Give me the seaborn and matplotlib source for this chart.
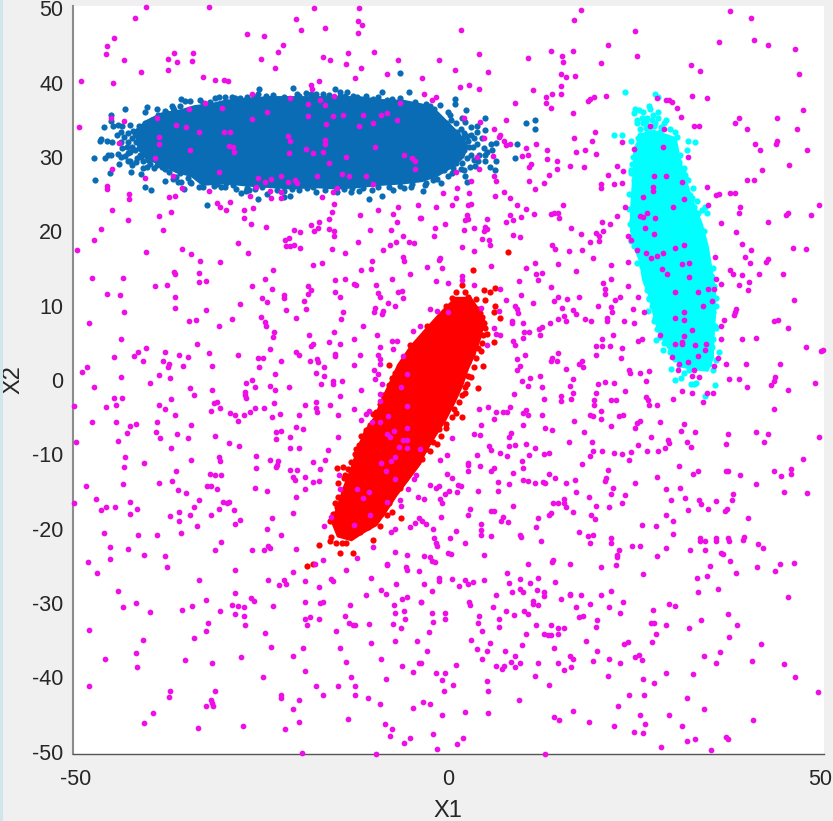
import matplotlib
matplotlib.use('Agg')
import matplotlib.pyplot as plt
from matplotlib.patches import Rectangle
import seaborn as sns

# all values, as (X1, X2)
magenta_top_left = [
    (-40.6,50.2),(-32.2,50.2),(-18,50),(-12,50),(-42.1,48.7),(-20.4,48.6),(-12.1,48.3),(-11.6,47.8),(-16.5,47.4),(-19.8,47.1),
    (-12.1,46.7),(-27,46.6),(-24.8,46.2),(-44.9,46),(-45.8,44.9),(-22.2,45),(-46,43.9),(-22.8,44.1),(-36.8,44),(-34.3,44),
    (-13.5,44),(-10,44.1),(-37.6,43.2),(-25.1,43.2),(-16.8,43.4),(-15.9,43),(-6.7,43.1),(-43.6,43.1),(-36.4,42.8),(-34.4,42.9),
    (-13.8,42.5),(-37.6,41.7),(-23.3,41.9),(-11.7,41.9),(-41.3,41.4),(-8.2,41.2),(-33,40.7),(-12.5,40.6),(-31.3,40.4),(-30.1,40.3),
    (-29.6,40.2),(-17.4,40.2),(-49.3,40.2),(-45,40),(-18.4,39.7),(-18.3,39.2),(-26.4,38.5),(-21.2,37.9),(-15.4,38.2),(-17.2,37.6),
    (-32.7,37.2),(-18.8,37.1),(-16.6,37),(-6.5,37.2),(-34.8,36.4),(-30.4,36.6),(-24.4,36.1),(-18.8,35.5),(-14.1,35.7),(-11.4,35.7),
    (-15.5,35.5),(-9,35.7),(-8.2,35.9),(-45.3,35.3),(-39.1,35.3),(-26.3,35.1),(-43.6,34.8),(-6.9,35),(-16.4,34.4),(-10.1,34.6),
    (-36.6,34.3),(-35.2,34),(-12,34.1),(-49.6,34),(-33.5,33.3),(-30.1,33.4),(-29.3,33.3),(-21.5,32.8),(-38.8,32.7),(-21.3,32.1),
    (-16.6,32.3),(-16.6,31.7),(-38.9,31.7),(-44.2,31.9),(-29.5,31.5),(-28.9,31.3),(-9.8,31.3),(-19.1,31.1),(-28.8,30.7),(-34.7,30.9),
    (-21.4,30.5),(-18.2,30.5),(-16.8,30.6),(-6,30.3),(-13.7,30),(-39.4,29.9),(-4.9,29.8),(-4.4,29.5),(-16,29.2),(-45.2,28.4),
    (-4.5,28.4),(-30.8,28),(-14.3,27.7),(-13.3,27.5),(-17.6,27.4),(-22.5,27.4),(-11,27.5),(-37,27.4),(-40.7,27.2),(-25.6,27.2),
    (-24.6,26.6),(-23.8,27),(-21.5,26.6),(-20.6,26.9),(-20.3,26.5),(-10.1,26.3),(-45.9,26.1),(-45.8,25.7),(-35.8,25.8),(-25.8,25.9),
    (-14.9,25.8),(-15.5,25.3),(-32.1,25.4),(-24,25.4),(-22.5,25.3),(-42.9,25),(-42.9,24.4),(-37.5,24.6),(-36.7,24.8),(-26.6,24.8),
    (-23.8,24.5),(-22.5,24.5),(-16.9,24.6),(-31,23.8),(-29.3,23.9),(-15.3,23.7),(-30.6,23.3),(-29.9,22.9),(-26.2,23.1),(-6.7,23.2),
    (-4,23.5),(-45.1,22.9),(-27.4,22.8),(-9.4,22.8),(-37.2,22.6),(-15.6,22.6),(-7.4,22.3),(-38.9,22.1),(-11.8,22.2),(-27.5,21.8),
    (-3.8,21.8),(-43,21.5),(-6.9,21.3),(-16,21.6),(-17.3,21.3),(-26.5,21),(-18.4,20.8),(-17.5,20.4),(-18,20),(-24.5,20.6),
    (-16,20.3),(-15.3,20.1),(-46.7,20.3),(-38.3,20.2),(-20.7,20.2),(-19.9,19.9),(-10.5,20.2),(-7.7,20.2),(-15.3,19.3),(-6.1,19.3),
    (-47.6,18.8),(-21.4,19.1),(-21.9,18.8),(-12.1,18.6),(-7,18.6),(-5.3,18.5),(-28.2,18.4),(-4.6,18.4),(-7.8,18.2),(-21.8,18),
    (-21.2,18),(-20.7,18.1),(-19.9,17.8),(-49.9,17.5),(-35.8,17.6),(-15.6,17.6),(-8.8,17.5),(-40.6,17.2),(-26.9,17.1),(-13.9,17.1),
    (-34.6,17),(-6.1,16.5),
]
magenta_top_right = [
    (17.8,49.7),(16.9,48.4),(37.8,49.6),(40.6,48.7),(25.1,47),(1.7,47.1),(36.3,45.5),(41.1,45.7),(21.4,45),(42.9,45.1),
    (46.6,44.5),(16.7,44.3),(13.8,44.2),(4.1,43.9),(15.3,43.6),(25.3,43.6),(10.7,43.3),(-1.3,43.1),(15.4,42.8),(20.5,42.7),
    (32.6,42.3),(0.9,41.7),(33.8,41.5),(5.4,41.4),(47.1,41.1),(15.2,41.1),(17,40.9),(15.8,40.7),(-3.5,40.6),(15.1,39.6),
    (2.8,39.7),(1.6,39.4),(4.1,39.2),(11.4,39),(14,38.5),(15.2,38.5),(-3.2,38.4),(13.1,38.1),(19.6,38.1),(19.1,37.8),
    (18.8,37.5),(21.2,38.2),(-1.7,38.1),(-2.2,37.6),(28,37.9),(29.2,37.7),(29.6,37.7),(30.1,37.4),(32.7,38.2),(34.8,37.9),
    (8.9,37.2),(13.1,37.3),(13.8,36.6),(30.7,36.6),(16.8,35.9),(47.7,36.3),(31.2,35.4),(39,35.2),(44.2,35.2),(2.1,35.2),
    (7.8,35),(4.2,34.7),(38.5,34.5),(33,34.1),(33.7,34.1),(27.1,34.1),(29,33.8),(40.1,33.8),(46.9,33.8),(6.1,33.8),
    (19.7,33.3),(7,33),(6.8,32.7),(16.9,32.5),(4.8,32.6),(19.3,32.1),(23.3,32),(7.5,32.1),(44.2,32.1),(44,31.7),
    (41.2,31.7),(8.3,31.8),(7.7,31.6),(11.8,31.7),(28.9,31.3),(10.5,31.2),(13.2,31),(18.3,31),(17.2,30.7),(24.9,31.1),
    (41.9,31),(48.2,31),(19.8,30.4),(10.7,30.3),(9.9,30.1),(32.2,30),(6,30.1),(3.8,30),(13.3,29.7),(14.6,29.4),
    (11.1,29.1),(10.9,28.7),(16.4,28.8),(18.2,28.7),(22.6,28.8),(14.6,28.4),(45.7,28.9),(42.2,28.3),(4.1,28.4),(1,28),
    (23.5,28.1),(13.5,27.6),(21.5,27.6),(27.7,27.5),(29.2,27.4),(6.1,27.4),(6.4,26.8),(3,26.7),(10.8,26.7),(41.1,26.9),
    (40.1,26.9),(12.9,26.5),(31.4,26.6),(22.2,26.3),(23.3,26.5),(20.5,26.3),(20.5,25.8),(34.7,26),(1.2,25.8),(11.6,25.7),
    (27.5,25.9),(27.5,25.4),(38.5,25.2),(37.8,25.1),(-0.7,25.1),(2.8,25.1),(7.5,25.3),(36.3,25),(36,24.9),(26.1,24.6),
    (6.3,24.7),(8.3,24.5),(1.1,24.5),(31.6,24.3),(3.1,23.7),(2.7,23.6),(9.2,23.5),(15.4,23.6),(34.9,23.6),(49.8,23.6),
    (0.5,23.5),(-1.6,23.2),(10.5,23),(23.8,23.2),(30.2,23.2),(39.2,23.2),(39,22.4),(26.7,22.4),(11.5,22.3),(14.7,22.5),
    (14.2,22.4),(13.8,22.3),(45.6,22.4),(45.3,22.2),(48.7,22.2),(22.7,22.1),(2.5,22.2),(8.3,22.2),(9.8,21.9),(14.9,21.8),
    (25.7,22),(26.1,21.9),(27.8,21.8),(-3.7,21.8),(2.6,21.7),(2.2,21.5),(5.2,21.6),(8.7,21.5),(7.7,21.3),(20.6,21.2),
    (21.7,21),(-0.4,21),(36.7,21.1),(42.9,21.3),(4.9,20.6),(-1.8,20.5),(3.4,20.5),(16.5,20.4),(26.4,20.5),(5.2,20.3),
    (2.1,20.2),(4.8,20),(20.8,20.1),(19.8,19.8),(17.8,19.7),(27.7,19.7),(38.6,19.9),(20.3,19.4),(8.7,19.5),(24.2,19.4),
    (9.7,19.2),(-1.9,19.3),(4.6,18.9),(5.5,18.8),(20.2,18.7),(19.1,18.5),(24.6,18.8),(5.6,18.1),(1.9,17.9),(13.9,18.1),
    (14.4,17.6),(16.2,17.3),(17.9,17.5),(3.5,17.3),(25.4,17.5),(31.6,18.1),(30.5,17.7),(39.4,18.3),(40.6,17.5),(46.3,17.7),
    (48,17.6),(28.9,17.1),(26.6,17.1),(28.1,16.7),(35.8,16.5),(39.8,16.5),(-1.1,16.4),(19.5,16.4),(42.9,16.3),(27.2,16.4),
]
magenta_mid_left = [
    (-47.9,13.7),(-43.7,13.7),(-45.8,11.6),(-44.1,11.4),(-43.5,9.2),(-48.2,7.7),(-43.9,5.5),(-40.6,4.3),(-41.7,3.7),(-42.2,3.2),
    (-44.9,3.1),(-41,2.6),(-48.5,1.8),(-49.2,1.1),(-43.9,0.4),(-47.6,-0.9),(-44.9,-2.4),(-43.8,-2.4),(-44.6,-3.4),(-46,-3.6),
    (-50.2,-3.5),(-47.9,-5.6),(-44.6,-5.7),(-42.7,-6.2),(-41.9,-5.9),(-43.1,-7.1),(-44.3,-8.2),(-50,-8.3),(-43.4,-10.4),(-40.9,-11.1),
    (-43.5,-11.7),(-43.7,-14),(-48.7,-14.3),(-47.3,-16),(-50.2,-16.6),(-42.7,-16.4),(-44.7,-17.1),(-46,-17.1),(-46.6,-17.5),(-41.8,-17.3),
    (-42.7,-18),(-46.3,-20.6),(-41.7,-20.8),(-39.1,-20.9),(-39.4,12.6),(-37.8,12.8),(-36.9,14.5),(-36.7,14.2),(-33.5,14.4),(-33.5,13.2),
    (-32.5,13.3),(-33.3,16),(-30.6,15.9),(-36.7,11.1),(-36.7,9.7),(-32.6,9.4),(-28,10.2),(-34.8,8),(-33.9,8.1),(-30.8,7.3),
    (-29.1,8.2),(-26.4,12.6),(-24.6,13.6),(-23.5,14.8),(-23.7,12.3),(-25,11),(-24.4,10.5),(-22,11.4),(-22.1,11),(-21.8,9.4),
    (-25.1,8.5),(-24.6,7.8),(-24.5,7.3),(-20.5,8.4),(-23.4,6.4),(-23.5,5.8),(-19.4,10.6),(-19.1,9.6),(-18.9,12.7),(-18.5,12.1),
    (-18.8,11.5),(-18.1,15.4),(-17,15.8),(-15.2,13.4),(-13.9,13.6),(-12.7,12.9),(-12.4,12.8),(-15.2,11.8),(-14.6,11.2),(-11.7,14.8),
    (-10.4,14.9),(-10.3,16),(-9.7,12.8),(-7.6,13.6),(-5.9,16),(-5.1,14.3),(-9.5,11.7),(-9.1,11.2),(-6.8,11.8),(-6.2,12),
    (-6.1,11),(-8.1,10.3),(-7.1,9.9),(-9.9,9.7),(-10,9.2),(-8.8,9.3),(-8.9,8.9),(-14.1,9.2),(-14.4,8.2),(-11.4,7.3),
    (-3.8,7.3),(-4.7,6.6),(-18.7,6.1),(-15.4,6.4),(-9.6,6.1),(-12.7,5.5),(-16,5.1),(-14.6,4.8),(-18.2,4.9),(-18.4,4.6),
    (-7.5,5.3),(-6.9,5.3),(-9.1,4.4),(-7.4,4.2),(-33.8,4.8),(-23.9,4.2),(-20.4,3.7),(-20.1,3.3),(-15.2,3.5),(-15.2,3.2),
    (-11.9,3.3),(-9.4,3.4),(-6.1,3.2),(-38,3.7),(-32.2,3.6),(-28.3,3.4),(-36.2,3.3),(-34.9,3.1),(-25.5,3),(-24.9,3),
    (-38.3,2.6),(-37.5,2.2),(-37.6,1.8),(-35.6,1.9),(-31.7,1.9),(-25.4,1.8),(-22.4,2.5),(-18.6,2.6),(-17.6,2.8),(-17.5,2.4),
    (-16.7,1.8),(-12.7,2),(-9.2,2.8),(-9.2,2.2),(-10,1.3),(-38.8,0.7),(-37.4,0.3),(-23.3,0.8),(-17.8,0.9),(-16.7,0.6),
    (-9.5,0.8),(-9.8,0.2),(-40,-0.4),(-26.3,0),(-27.2,-0.4),(-26,-1),(-15.5,-0.2),(-15.5,-0.5),(-14.3,-0.1),(-17.1,-0.5),
    (-8.9,-0.6),(-34.7,-1.1),(-23.9,-0.8),(-21.4,-0.9),(-23.3,-1.3),(-31.7,-1.4),(-11.7,-1.4),(-34.2,-2),(-27.3,-1.6),(-27.3,-2),
    (-27.1,-2.4),(-14.5,-2.1),(-9.2,-1.9),(-37.3,-2.5),(-31.1,-2.9),(-31.5,-3.1),(-23.4,-3.1),(-17.8,-2.9),(-19.3,-3.3),(-15.9,-3.4),
    (-38.8,-3.4),(-17.7,-3.8),(-38,-3.9),(-30.6,-3.8),(-26,-3.8),(-24.7,-3.7),(-31.9,-4.2),(-17.6,-4.3),(-12.7,-3.9),(-10.6,-4.2),
    (-11,-4.6),(-29.3,-4.5),(-28.7,-4.7),(-27.4,-4.7),(-26.6,-4.3),(-36.7,-4.7),(-22.6,-4.6),(-20.1,-4.7),(-14.8,-4.7),(-23.7,-5),
    (-28.3,-5.5),(-39.1,-5.6),(-11.7,-5.4),(-34.5,-6),(-20.4,-6.3),(-19.5,-6.6),(-39.3,-7),(-22.5,-6.8),(-23.1,-7),(-36.4,-7.2),
    (-31.3,-7.5),(-38.7,-7.8),(-34.9,-7.8),(-21.2,-7.7),(-14.8,-7.7),(-23.2,-7.9),(-29.4,-8.5),(-28.1,-8.9),(-37.2,-9.2),(-21.3,-9.2),
    (-20,-9.2),(-16.2,-9.4),(-25.8,-10.2),(-30.8,-10.4),(-30.6,-10.9),(-34.6,-10.8),(-24,-10.8),(-16.6,-10.7),(-22.8,-10.9),(-18.2,-11),
    (-23,-11.4),(-23.2,-11.7),(-25.8,-11.8),(-21.3,-12.1),(-20.3,-12.1),(-17.2,-12),(-36.6,-12.2),(-32,-12.7),(-31.3,-12.8),(-30.5,-12.8),
    (-19.3,-13),(-20.8,-13),(-20.6,-13.4),(-18.2,-13.7),(-17.4,-13.6),(-37.1,-13.6),(-38.8,-13.9),(-32.4,-14.3),(-31.8,-14.3),(-31,-14.6),
    (-26,-14.5),(-24.3,-14.9),(-19.3,-14.6),(-36.3,-14.8),(-35.2,-15.2),(-20.4,-15.8),(-33.5,-16.2),(-30.3,-16.4),(-29.7,-16.5),(-29.4,-16.4),
    (-34.1,-17.1),(-30.8,-17.4),(-28.8,-17.5),(-36.2,-17.7),(-20.8,-17.9),(-34.7,-18.1),(-31.8,-18.1),(-37.4,-18.3),(-23.7,-18.5),(-36.1,-19),
    (-28,-18.8),(-28.7,-19.3),(-33.7,-19.6),(-24.4,-20.1),(-35.9,-20.6),(-22.5,-20.9),(-16.7,-19.6),(-15.7,-18.4),(-12.6,-19.5),(-10.5,-18.2),
    (-7.7,-20.4),(-7.1,-20.1),(-5.2,-19.8),(-4.4,-19.2),(-3.9,-18.6),(-6.5,-16.2),(-6.3,-16.9),(-8.2,-16.4),(-5.4,-14.6),(-4.1,-15.7),
    (-4.6,-13.3),(-4.3,-12.8),(-12.3,-14.6),(-11.4,-15.9),(-10.6,-15.1),(-8.3,-12.3),(-9,-11.1),(-7.7,-10.9),(-7.2,-10.4),(-6.6,-9),
    (-5.6,-9.1),(-6.1,-8.1),(-5.6,-8.1),(-8.2,-7.3),(-7.8,-7.7),(-7.3,-6.8),(-5.5,-6.5),(-9.2,-5.7),(-10.3,-5.7),(-8.1,-4.9),
    (-5.5,-3.5),(-9.1,-2.8),(-3.8,-9.3),(-5.6,0.8),(-6.4,-1),(-7.1,-13.3),(-14.6,-14.6),(-14.7,-12.8),
]
magenta_mid_right = [
    (-2.8,15.2),(-1.2,16.1),(-0.8,15),(-1.6,13.3),(-0.1,13),(1.8,14),(1.9,13.5),(5.7,15.3),(3.5,12.8),(7,12.3),
    (10.4,15.1),(11.7,15.7),(11.8,14.3),(12.6,14.4),(9.5,13.3),(12.1,13.4),(13.8,12.5),(14.8,15.6),(17.2,14.7),(21.8,15.5),
    (24.2,15.9),(21.8,13.6),(20.8,13),(21.1,12.3),(21,11.6),(24.2,12.6),(9.8,11.4),(14.8,11.2),(14.2,10.6),(15.9,10.9),
    (17.6,11.1),(23.1,11.2),(22.4,10.7),(25.5,11.1),(7.7,10.7),(11.4,10.3),(9,10),(20.1,10),(15.3,9.7),(21.8,9.8),
    (24.8,9.5),(9.3,9.5),(16.8,9.4),(22,9.2),(9.4,9),(17.2,8.9),(26.3,9.1),(6.8,9.3),(-2.4,9.6),(-1.5,9.3),
    (-0.1,9.2),(4.4,9.7),(15.6,8.6),(15.8,8),(14.7,8.2),(18.4,8.2),(19.2,8),(21.3,8.4),(21.3,8),(23.6,8),
    (24.9,7.6),(8.6,8),(10,7.7),(13.7,7.6),(8.5,7.6),(6.1,7),(12.6,7.1),(12.2,6.8),(10.2,6.5),(10.8,6.4),
    (12.3,6),(6.4,6.2),(6.9,6),(10,5.7),(22.1,6.1),(20.6,5.5),(25.5,5.2),(26,5.5),(8.7,5.2),(8.9,4.7),
    (5.2,4.7),(19.9,4.6),(20.6,4.6),(21.7,4.6),(23.4,4.3),(14.7,3.6),(10.3,3.4),(19.9,3.3),(23.2,3),(9.2,2.8),
    (13.9,2.9),(13.8,2.5),(14.6,2.5),(18,2.6),(17.6,2.1),(9.7,1.9),(9.2,1.4),(15.8,1.5),(18.1,1.7),(24.3,1.3),
    (24.4,0.9),(25.7,0.9),(26.9,1.2),(12.3,0.6),(11,0.3),(16.8,0.2),(9.9,-0.1),(26.5,-0.1),(20.1,-0.5),(21.1,-0.3),
    (22.2,-0.4),(10.7,-0.8),(12.6,-0.9),(16.4,-0.8),(16.8,-1.7),(23.7,-1.5),(8.8,-1.9),(19.8,-1.8),(15.1,-2.1),(12.8,-2.5),
    (15.1,-2.8),(16.5,-2.6),(26.5,-2.3),(26.8,-2.7),(21.9,-2.7),(22.5,-2.7),(19.6,-2.7),(19.6,-3.4),(27,-3.4),(28,-3.4),
    (4.1,-3.9),(5.3,-3.6),(8.3,-3.6),(7.3,-4.3),(7.9,-4.3),(6.4,-4.3),(10.4,-4.1),(10.1,-4.5),(10.7,-4.7),(12.6,-4.7),
    (20.5,-4.2),(19.1,-4.7),(19.4,-4.8),(20.5,-5.2),(23,-4.9),(23.5,-4.7),(6.1,-5.2),(16.9,-5.5),(25.8,-5.5),(25.3,-5.8),
    (25.1,-6.4),(28.5,-5.6),(31.7,-5.9),(4.4,-6),(10,-6),(21.8,-6.2),(13,-6.5),(14,-6.7),(3.5,-7.2),(4.3,-7.4),
    (8.4,-7.1),(18.2,-7),(31.2,-6.9),(33.1,-7),(37.6,-7.2),(41.3,-7),(43,-7.3),(49.8,-7.6),(8.1,-7.7),(27.2,-7.7),
    (0.5,-7.8),(29.5,-8.1),(29.6,-8.5),(16.2,-8.4),(19.3,-8.4),(32.1,-8.4),(42.4,-8.3),(8.1,-8.9),(8.9,-8.8),(10.5,-8.6),
    (37.3,-8.6),(25.5,-8.8),(5.5,-8.9),(5.8,-9.4),(11.7,-9.2),(29.1,-9.1),(32.6,-9),(28.2,-9.5),(26.7,-9.5),(19.5,-9.6),
    (20.7,-9.6),(22.3,-9.8),(23.3,-10),(24.6,-9.7),(7,-9.8),(13.5,-9.8),(12.8,-10),(7.9,-10.2),(10.9,-10.1),(3.9,-10.1),
    (-0.2,-10.1),(19,-10.2),(-1.1,-10.7),(24.3,-10.8),(47.6,-10.6),(9.9,-10.9),(2.7,-11.1),(2.7,-11.4),(18,-11.3),(4.3,-11.5),
    (31,-11.5),(10.1,-11.9),(6.2,-11.9),(5.7,-12.3),(2.7,-12.3),(21.5,-12.1),(33.5,-12.2),(37.3,-12.3),(37.6,-12.3),(43.8,-12.3),
    (46.1,-12),(46.1,-12.6),(8.7,-12.5),(13.5,-12.6),(-0.2,-12.7),(32.9,-12.7),(39.2,-12.8),(44.7,-12.9),(0.5,-13.2),(28.1,-13),
    (14.3,-13.2),(17,-13.4),(21.2,-13.2),(21,-13.6),(10.1,-13.5),(10.7,-13.6),(11.7,-13.8),(12.7,-13.7),(13,-13.9),(15.8,-13.8),
    (6.7,-13.7),(8.1,-14),(25.1,-13.9),(41.3,-14),(-2.4,-14.1),(-1.3,-14.2),(-1.7,-14.5),(1.3,-14.1),(1.7,-14.3),(4,-14.9),
    (6.7,-14.9),(0.1,-14.9),(-0.4,-15.3),(1.2,-15),(22.1,-14.5),(29.2,-14.6),(31.1,-14.5),(45.1,-15),(48.2,-15.2),(17.2,-15.1),
    (21.9,-15.3),(23.7,-15.4),(38.3,-15.3),(18.9,-15.8),(15.5,-16),(31.8,-15.9),(38.1,-16.2),(29.9,-16.1),(33.7,-16.1),(35.9,-16.3),
    (-3.3,-16),(-1.1,-16),(-0.9,-16.6),(14.1,-16.6),(14.7,-16.6),(15.6,-16.6),(23.3,-16.6),(34,-16.7),(15.8,-17.1),(8.7,-17),
    (19.9,-16.9),(21.6,-17.1),(2.9,-17.4),(5.7,-17.6),(6.2,-17.6),(32.2,-17.5),(34.9,-17.4),(37.4,-17.3),(37.2,-17.6),(16.8,-17.8),
    (13.8,-17.9),(13.5,-18.1),(2.6,-18.1),(29.2,-18.1),(19.2,-18.1),(-1,-18.4),(7.3,-18.4),(12,-18.5),(40.2,-18.5),(19.7,-18.7),
    (7.1,-19),(8,-19.1),(30.2,-19),(-3.5,-19),(-3,-19.3),(4.4,-19.4),(26,-19.5),(27.9,-19.7),(11.8,-19.8),(-2,-20.1),
    (1.1,-20.3),(4.4,-20.2),(17.6,-20.5),(30.2,-20.7),(19.5,-20.8),(18.8,-21),(4.4,-20.9),(5.8,-21),(9.6,-20.9),(9.8,-21.1),
    (39.7,-21.1),(0.2,-21.2),(33.8,-21.3),(36,-21.3),(37.6,-21.3),(21.8,-21.3),(-1.9,-21.3),
    (28.7,14.9),(29.4,14.3),(31.4,15.6),(32.3,15.7),(32.4,13.9),(30.4,11.8),(33.6,11.8),(34.2,10),(31.6,9.2),(30.5,8.4),
    (31.6,8.1),(32.8,6.7),(31.7,5.9),(30.4,4.8),(31.4,5.1),(31.4,4.8),(33.2,4.7),(34.6,4.8),(34.5,4.1),(30.1,3.1),
    (33.6,3.2),(28.4,6.1),(36.2,3),(31,2.1),(32.2,2.4),(30.8,1.3),(33,1.4),(35.7,1.9),(32.8,0.5),(33.7,0.4),
    (31.4,-1.5),(32.7,-1.7),(34.7,-1.8),(35.6,-1.8),(34.2,-2.9),(30.2,-2.5),
    (37.8,14.8),(38.3,14.2),(39.4,14.1),(40.5,15.7),(42.7,15.9),(41.8,14.3),(45,14.2),(35.9,13.6),(36.7,12.9),(35.7,12.3),
    (34.9,12.3),(39,12.8),(40.4,13.2),(40.2,12.1),(46.5,10.8),(35.4,10.6),(38.7,9.6),(38.5,9.2),(38.4,8.8),(37.1,8.1),
    (36.6,7.2),(43.8,7.9),(44.3,8.1),(45.6,7),(36.7,5.5),(39.4,5.5),(41.3,5.6),(48,4.4),(50,3.9),(50.3,4.1),
    (37.3,2.2),(40,2.2),(44.5,2.2),(37.7,0.1),(39,0.1),(43.9,0.4),(43.8,-0.1),(43.4,-0.7),(40.1,-1),(45.6,-1.3),
    (49.3,-0.4),(43.7,-3.9),
]
magenta_low_left = [
    (-45.4,-22.4),(-43,-22.7),(-40.8,-23.6),(-38,-23.7),(-45.4,-24.1),(-48.4,-24.5),(-37.8,-25.2),(-47.2,-26),(-30.5,-21.8),(-31.3,-22.8),
    (-26.3,-22.9),(-24.7,-22.8),(-24.2,-22.3),(-23.9,-22.6),(-20.5,-22.7),(-28.7,-25.5),(-20.8,-25.8),(-16.8,-24.2),(-17.9,-24.7),(-12.3,-23.9),
    (-13.8,-25.6),(-10.1,-22.5),(-7.2,-23.1),(-5.5,-23.5),(-8.2,-24.7),(-8.2,-24.9),(-5.7,-25.2),(-5.5,-25.5),(-3.9,-25.7),(-10.4,-26.6),
    (-33.5,-26.9),(-24.2,-26.9),(-22.1,-26.9),(-21.8,-27.4),(-22.7,-27.6),(-19.2,-27),(-15.7,-26.8),(-15.5,-27.1),(-17.4,-27.8),(-7,-27.4),
    (-9,-28.2),(-44.3,-28.4),(-28.7,-28.6),(-8.3,-28.8),(-11,-28.9),(-26.5,-29.3),(-26.1,-29.7),(-32.6,-29.6),(-6.2,-29.4),(-5.5,-29.2),
    (-41.9,-30),(-19.2,-29.8),(-17.2,-30),(-16.8,-29.8),(-3.7,-29.9),(-7.3,-30.2),(-13.2,-30.3),(-29.1,-30.2),(-28.3,-30.4),(-27.4,-30.5),
    (-23.6,-30.4),(-43.7,-30.5),(-34.4,-30.4),(-35.7,-30.9),(-40,-31.2),(-30.7,-31.1),(-6,-31.1),(-7.2,-31.4),(-28.7,-31.5),(-27.5,-31.8),
    (-13.9,-31.8),(-18.6,-31.9),(-19.3,-32.2),(-17.4,-32.2),(-5.8,-32.2),(-32.3,-32.7),(-13.3,-32.7),(-12.8,-33),(-12.5,-33),(-27.3,-32.9),
    (-19,-33),(-10.6,-32.8),(-7.4,-32.8),(-6.3,-33.4),(-48.2,-33.6),(-32.6,-33.8),(-15.1,-33.8),(-24.6,-34),(-34.2,-34.7),(-41,-35),
    (-4.2,-35.1),(-7.2,-35.1),(-10.4,-35.4),(-23.8,-35.9),(-19.5,-36.1),(-14.6,-36.1),(-42,-36.7),(-20.9,-37.1),(-27.9,-37.3),(-46.1,-37.5),
    (-35.4,-37.6),(-9,-37.5),(-31.7,-38),(-13.8,-37.9),(-3.9,-38.1),(-6.2,-38.4),(-41.8,-38.6),(-19.2,-39.2),(-4.7,-39.3),(-24.9,-39.9),
    (-13,-39.9),(-8.4,-40.2),(-48.3,-41.1),(-17.7,-41.1),(-14.8,-41.2),(-12.5,-41.1),(-37.4,-41.8),(-31.3,-41.8),(-22.5,-42.4),(-22.5,-42.8),
    (-37.5,-42.7),(-16.8,-42.4),(-12.5,-42.3),(-10.8,-42.8),(-20.1,-43),(-31.8,-43.1),(-31.7,-43.4),(-9.2,-43.6),(-32.5,-43.8),(-31.6,-43.9),
    (-4.7,-44.1),(-20.8,-44.3),(-39.6,-44.8),(-13.5,-45.6),(-40.8,-46.1),(-20,-46),(-8.5,-46.2),(-27.6,-46.5),(-33.6,-46.8),(-7.5,-46.9),
    (-21.9,-47),(-7.8,-47.9),(-5.2,-48.1),(-5.9,-48.8),(-19.6,-50.1),(-9.7,-50.3),
]
magenta_low_right = [
    (-1.7,-21.9),(2.3,-21.9),(12.4,-21.7),(19.1,-21.9),(21.8,-21.9),(23,-22.8),(24.7,-22.3),(25.7,-22.3),(29.2,-22.6),(32.5,-22.8),
    (34.5,-22.8),(33.8,-21.7),(34.5,-21.7),(36,-21.6),(37.7,-21.7),(39.6,-21.5),(41.6,-22),(42.3,-22.6),(-1.5,-22.3),(-0.1,-23.2),
    (0.4,-23.4),(4.8,-23.5),(-3.3,-23.7),(-2.4,-23.8),(-2.2,-24.3),(-1.8,-24.5),(10.7,-24.7),(14.1,-24.2),(13.9,-24.5),(16.4,-24.7),
    (22.7,-23.5),(22.6,-23.8),(22.5,-24.9),(20.5,-25.2),(28.1,-23.7),(26.1,-26.1),(35.1,-25),(36.6,-23.3),(36.9,-23.4),(37.9,-24.4),
    (38.7,-26),(41.5,-25.2),(44.5,-24.7),(46.5,-24.6),(43.9,-25.7),(7.9,-25.9),(34.8,-26.3),(33.4,-26.6),(-1.2,-26.6),(-1.3,-27),
    (0.5,-26.7),(2.2,-26.9),(2.7,-27.5),(3.3,-27.2),(4.8,-26.9),(1.5,-27.7),(-3.2,-27.4),(9.6,-26.8),(12.1,-26.6),(8.2,-27.3),
    (11,-27.3),(14.3,-27.2),(-2.2,-28.4),(9.7,-28.1),(10.1,-28.5),(8.5,-28.5),(11.9,-28.3),(12.9,-28.5),(21.9,-28.4),(36.2,-28.1),
    (33.6,-28.5),(6.4,-28.9),(16.3,-28.8),(16.4,-28.9),(17.8,-28.9),(20.5,-28.9),(12.8,-29.1),(15.2,-29.4),(11.4,-29.7),(45.6,-29.2),
    (2.8,-29.9),(2.9,-30.3),(11.4,-30.1),(12,-30.3),(-3.6,-29.9),(23.5,-29.8),(19,-30.1),(29.6,-30.1),(30.4,-30.4),(6,-30.5),
    (17.1,-30.5),(21.6,-30.5),(27.5,-30.9),(7.7,-31.1),(10.2,-31.1),(10.7,-31.5),(8.8,-31.6),(-2.2,-31.4),(-0.4,-31.3),(-0.4,-32.1),
    (4.1,-31.7),(23.1,-31.3),(37.6,-31.5),(18.1,-31.7),(17.6,-31.9),(6.8,-32.1),(-2.1,-32.5),(20,-32.3),(33.9,-32.3),(4,-32.7),
    (11.8,-32.9),(13.8,-32.9),(27.2,-32.7),(27.7,-32.7),(29.2,-33),(38.8,-33),(6.8,-33.2),(19.8,-33.2),(14.7,-33.3),(15.6,-33.3),
    (32.3,-33.4),(-2.6,-33.9),(4.5,-33.8),(10.5,-34.1),(12.8,-34.1),(13.4,-34.3),(13.8,-34.3),(14.7,-34.2),(27.9,-34.2),(37.7,-34.5),
    (3,-35),(18.5,-35.1),(24.1,-35.2),(23.6,-35.5),(27.4,-35.3),(5.6,-35.4),(9.9,-35.7),(42,-35.5),(3.9,-36.2),(7.6,-36.4),
    (-2.9,-36.4),(5.2,-36.5),(14.2,-36),(20,-36.5),(36.5,-36.6),(8.9,-37.1),(16.3,-37.1),(16.7,-37.5),(25.1,-37.3),(25.6,-37),
    (26,-37.6),(34.4,-37.1),(4.5,-37.5),(21.6,-37.5),(19.4,-37.8),(8.4,-37.9),(40.8,-37.8),(-3.6,-38),(1.1,-38.3),(9.7,-38.1),
    (12,-38.1),(14.7,-38.1),(23.1,-38.1),(35.9,-38.1),(45.1,-38.2),(6.4,-38.5),(7.5,-38.5),(7.2,-38.9),(8.9,-38.6),(16.5,-38.6),
    (15.5,-39),(-1.7,-39.4),(-0.5,-39.4),(29.3,-39.4),(11.7,-39.8),(21.5,-39.8),(32.9,-39.6),(46.6,-40),(26.1,-40.2),(-0.8,-40.3),
    (5.2,-40.5),(27.7,-40.7),(0.7,-41),(13.5,-41),(-0.6,-41.8),(5.3,-41.8),(49.7,-41.9),(24.3,-42.4),(26.3,-42.4),(32.1,-42.8),
    (9.5,-43.1),(-3.4,-43.3),(-2.4,-43.6),(22.8,-43.9),(34.4,-44.3),(2.3,-44.6),(16.7,-44.5),(5.4,-44.8),(-0.8,-45),(25.8,-45),
    (29.6,-45.1),(14.2,-45.3),(14.9,-45.7),(40.9,-45.7),(18.9,-46),(26.4,-46.2),(22.3,-46.6),(31.4,-46.5),(25,-47.4),(26.2,-47.5),
    (-2.1,-47.6),(2,-48.1),(33.2,-48.3),(32.1,-48.5),(37.3,-48),(37.6,-48.3),(1.2,-49),(-1.5,-49.6),(28.6,-49.4),(35.3,-49.7),
    (13,-50.3),
]

# the cluster middles are too dense to read point by point, so they are outlines
blue_core = [
    (-42,33.5),(-40.5,34.8),(-38.5,35.8),(-36,36.2),(-34,36.8),(-32,37),(-30,37.5),(-27,37.8),(-24,38),(-21,38),
    (-18,38),(-15,38),(-12,38),(-9,37.6),(-6,37.5),(-3.5,37),(-1.5,36),(0,34.5),(1.5,33),(2.5,31.5),
    (2,30),(0.5,28.7),(-1.5,27.5),(-3.5,26.8),(-6,26.5),(-9,26.3),(-12,26),(-15,25.8),(-18,26),(-21,25.8),
    (-24,26),(-27,26.2),(-30,26.5),(-33,26.3),(-34.5,27.5),(-36.5,28),(-38.5,29),(-40.5,29.8),(-41.5,31),
]
blue_edge = [
    (-47.6,29.8),(-47.5,26.9),(-46.8,32.1),(-46.6,32.4),(-45.9,32.1),(-46.2,34),(-45.3,35.6),(-45.3,34.9),(-45,34.1),(-43.4,36.5),
    (-44.3,34.3),(-43.8,34.1),(-42.8,34.3),(-44,33.4),(-43,33.2),(-45.1,32),(-43.5,32.7),(-42.3,33.5),(-41.6,34.1),(-40.7,34.5),
    (-39.8,35),(-40.7,36.1),(-40.4,36.7),(-39.1,36.4),(-38,36.2),(-37.8,35.9),(-37.1,36.9),(-35.9,37.8),(-35.4,37.5),(-34.7,37.5),
    (-33.3,37.6),(-31.3,37.9),(-30.8,38.1),(-30,38.1),(-28.7,37.9),(-25.4,39.2),(-25.6,38.5),(-20.9,39.3),(-20.3,38.4),(-19.1,38.6),
    (-17.7,38.4),(-16.8,38.4),(-15.2,39.2),(-14.5,38.8),(-13.6,38.8),(-13.9,38.2),(-12.8,38.2),(-8.9,38.8),(-5.3,38.8),(-6.5,41.3),
    (-4.4,37.4),(-8.2,37.6),(-10.1,37.8),(-12.3,38),(-44.3,30.4),(-46.1,29.9),(-45.7,30.2),(-45.3,30.2),(-43.4,30.1),(-44.2,29.1),
    (-45.4,27.9),(-42.8,29.4),(-42.5,28.9),(-42.6,28),(-41.3,27.7),(-41,28.5),(-40.4,28.7),(-40.7,25.9),(-39.9,25.5),(-39.1,28.9),
    (-38,28.4),(-38,26.8),(-37,27.1),(-36.3,26.6),(-35.9,26.6),(-35.5,25.7),(-34.7,26.6),(-34.8,27.8),(-33.6,27.3),(-32.4,23.5),
    (-30.5,25.9),(-29.8,26.5),(-28.9,26.2),(-27.8,25.2),(-27.1,25.4),(-26.8,25.5),(-25.5,24.3),(-24.4,25),(-21.2,24.8),(-22.1,24.6),
    (-18.2,25.9),(-17.7,25.3),(-15.1,26),(-12.9,25.8),(-11.5,25.8),(-10.2,25.5),(-10.7,24.4),(-8.9,24.7),(-7.4,25.6),(-5.9,25.8),
    (-4.9,26.3),(-5.6,27.1),(-42.5,31.4),(-42.1,30.9),(-42.7,30.7),(-41.4,30.3),(-43.2,31.4),(-43.8,31.2),(-41.6,31.2),(-41.2,30),
    (-40.3,29.6),(-42.1,33.2),(-41.2,33.6),(-40.3,34.1),(-43,30.5),(-41.8,29.8),
    (0.9,37.8),(0.9,37.1),(-1.1,37),(-1.9,36.5),(2.4,36.3),(-0.1,36),(0.3,35.6),(-1.5,35.2),(4.9,35.2),(1.9,35.2),
    (2.3,34.7),(0.4,35),(1,34.5),(-0.3,34.5),(1.7,33.8),(3,34),(3.9,34.1),(5,33.6),(2.1,33.2),(3,33),
    (3.9,33.4),(3.5,32.5),(4.6,32.5),(2.6,32.1),(6.4,31.9),(5.8,31.7),(9.3,31.8),(4.8,31.2),(5.2,30.7),(5.9,30.9),
    (2.8,31.4),(3,30.3),(2.1,31),(4.9,30.3),(10.4,34.5),(11.7,35),(11.7,33.8),(9,29.9),(6.4,29.5),(5,29.4),
    (4,29.4),(2.9,28.7),(3.6,28.8),(5.6,28.6),(6.3,28.2),(2.1,28.3),(1.9,29.2),(1,29.2),(0.1,29),(-0.1,27.4),
    (2.3,27.4),(2.5,26.6),(-1.5,27),(-3.1,26.2),(-3.4,25.4),(-0.6,28.3),(-2.4,27.6),
]
blue_fringe = [
    (-37,36.6),(-36,36.9),(-33,37.2),(-32,37.4),(-29,38),(-28,37.9),(-27,38.1),(-26,38),(-24.5,38.2),(-23.5,38.3),
    (-22,38.1),(-20,38.2),(-18.5,38.5),(-16,38.3),(-14.5,38.2),(-11,38.2),(-9.5,38.1),(-7.5,37.8),(-6.5,37.9),(-3,37.1),
    (-2.5,36.8),(-36.8,36.3),(-38,35.7),(-39,35.6),(-37.5,28),(-36.5,27.3),(-36,27.9),(-35,27.2),(-34.5,26.5),(-33.5,26),
    (-33,25.9),(-31.5,26.1),(-31,26.3),(-30,26),(-28.5,25.7),(-27,25.8),(-26,25.7),(-25,25.9),(-23,25.6),(-22,25.4),
    (-21,25.7),(-20,25.5),(-19,25.8),(-16.5,25.6),(-15,25.3),(-14,25.7),(-13,25.3),(-12,25.4),(-9.5,25.9),(-8,26),
    (-6.5,26.1),(-5,26),(-3,26.5),(-2,26.9),(-42,33),(-41.5,33),(-43,32),(-42.5,32.5),(-44.5,33),(-44,32),
    (-42,32),(-41.5,32.5),(-44,30),(-43,29.5),(-42,29.3),(-41,29.5),(-40,29),(-39.5,28.5),(-39,29.2),(-38.5,28.6),
    (-40.2,33.5),(-40,34.5),(-39,35),(-38,35.5),(0,33),(0.5,32),(1,32),(1.2,33.3),(2,32.5),(2.5,32.8),
    (3.3,31.4),(3.8,31.8),(2.5,29.8),(3.4,29.6),(4.1,30.3),(1.3,30),(1.7,28.4),(0.6,28.5),(0.5,27.9),(-2,28),(-1,26.5),
]
cyan_core = [
    (25,31),(26,33),(27.5,33.5),(29,33),(30.5,32.5),(31,30),(31.5,28),(32.3,25.5),(33,23.5),(34,21),
    (34.8,18),(35.3,15),(35.8,12),(35.8,9),(35.6,6),(35.5,3),(34.8,1.3),(33,1.5),(31.5,1.8),(30.5,3),
    (29.5,4.5),(28.3,6.5),(27.6,9),(27,11.5),(26.2,13.5),(25.8,16),(25,18),(24.6,20),(24.6,23),(24.8,26),(25,29),
]
cyan_edge = [
    (23.7,38.7),(27.8,38.5),(25.1,36.4),(24.9,35.9),(25.6,36.3),(26.2,36.1),(26.9,36.8),(27.1,36.5),(28.2,36.1),(27.5,35.6),
    (25.3,35),(26,35.2),(26.7,35.3),(28.2,35.3),(29.3,35),(27.8,34.5),(26.2,34.5),(22.3,33),(23.3,33),(24.5,32.1),
    (25.8,33),(26.7,33.2),(28.4,33.4),(29.8,33.7),(30.5,33.4),(30.7,32.7),(32.2,32.2),(33.2,32),(32.1,30.9),(31.1,30.3),
    (24.6,28.3),(31.6,28.5),(24.9,26.9),(31.8,27.6),(32.2,26.9),(32.9,25.8),(32.5,24.9),(33.4,24.1),(34.5,23.3),(34.1,22.9),
    (34.8,22.5),(33.6,22.4),(25.1,23.2),(33.6,21.2),(34.3,20),(24.7,21.5),(24.9,19.3),(25.1,20.4),(28.2,38),
    (25.4,15.8),(26,15.3),(35.4,13.8),(35.7,12.7),(26.7,12.1),(27.1,12),(26.9,10.9),(26.8,9.3),(27.9,8.9),(27.8,8.3),
    (35.6,9.2),(35.8,7.3),(28.1,6.8),(27.9,5.4),(29.6,5.7),(35.6,5.5),(35.4,4.5),(28.8,4.1),(29.8,3.8),(36.4,3.8),
    (29.9,1.5),(31.6,0.9),(31.3,0.3),(30.4,0),(32.4,1.3),(32.6,-0.6),(33,-0.5),(33.3,-0.4),(35.8,-0.7),(34.5,-2.1),(35,2.2),
]
cyan_fringe = [
    (25.3,34.5),(25.8,33.8),(26.5,33.9),(27,34),(27.6,34.2),(28.6,34),(29,34.5),(25.5,32.5),(26.5,34.7),(27.3,35),
    (28.5,33),(29.5,32.5),(30,32),(30.3,31),(24.8,30),(24.7,29),(31,29.3),(31.5,28),(31.9,27),(24.5,27.8),
    (24.3,25),(32.7,24.5),(33,23.3),(24.3,23),(24.4,21),(24.5,18.7),(25,18),(35.5,15),(35.3,14),(36,11),
    (36,10),(26.5,13),(26.3,14.5),(27,11),(27.3,10),(27.6,8),(36,7),(28.5,5.8),(29,5),(30,4),
    (30.4,2.8),(31,2),(35.9,2.7),(35.5,1.3),
]
red_core = [
    (1,11),(-1,9),(-2.8,7),(-5,4.5),(-6.7,2),(-7.6,0),(-8.8,-2.5),(-9.8,-5),(-11.2,-7),(-12.2,-9.5),
    (-13,-12),(-14,-14.5),(-14.8,-17),(-15.6,-19),(-14.8,-21),(-13,-21.5),(-11.5,-20.5),(-9.7,-19.5),(-8.5,-17.8),(-7,-15.5),
    (-5.5,-13.5),(-4,-11.5),(-3,-9.5),(-1.8,-7.5),(-0.5,-5.5),(0.8,-3),(1.8,-0.8),(2.6,1.5),(3.5,3.5),(4.3,5.8),
    (4.8,8),(4,9.5),(3,11),
]
red_edge = [
    (3.3,14.8),(1.9,12.8),(1.1,11.9),(2.3,11.8),(4.8,12.1),(5.6,11.9),(6.3,12.4),(0.5,11),(1.7,10.6),(2.6,11.1),
    (3.7,10.9),(5,10.8),(-0.3,10),(1.9,9.8),(3,9.5),(6.3,10),(6.1,9.1),(6.9,8.4),(-0.8,8.2),(2.1,9.1),
    (2.6,8.4),(3.5,8.6),(4.8,7.7),(5.2,6.2),(6.2,5.1),(4.4,3.9),(3.7,2.9),(4.7,1.9),(2.7,2.4),(3,0.4),
    (4,-1.1),(2.3,-0.9),(1.9,-2),(0.8,-3.9),(1.8,-5),(-0.3,-5.9),(-1.2,-6.6),(-1.5,-8.6),(-2.5,-9.5),(-3.5,-10.6),
    (-2.8,7.3),(-5.2,4.7),(-8,2),(-7.2,0.9),(-6.8,1),(-10.1,-4.6),(-11.6,-8.3),(-12.4,-9.3),(-11.9,-9.5),(-14.9,-11.8),
    (-14.2,-11.7),(-13.9,-12.8),(-14.8,-13.9),(-13,-12.2),(-15,-17.1),(-14.6,-17.5),(-15.9,-19),(-15.3,-19.1),(-14.4,-18.4),(-13.7,-19.3),
    (-11.3,-19.6),(-9.2,-19.6),(-8.2,-18.2),(-7.5,-17.8),(-6.3,-18.6),(-9.7,-18.7),(-12.6,-20),(-14.8,-20),(-15.7,-21.1),(-14.4,-20.7),
    (-13.5,-20.9),(-11.9,-20.4),(-10.8,-19.8),(-17.4,-22.2),(-15.9,-21.6),(-15.1,-21.9),(-14.3,-21.9),(-13.8,-21.9),(-14.6,-23.2),(-12.8,-23.3),
    (-10.1,-21.5),(-19,-25),(-18.1,-24.8),(8,17.2),
]
red_fringe = [
    (0,9),(0.5,9.5),(1,10),(1.3,10.5),(2,10),(2.5,10),(3,10.3),(3.5,9.8),(4,9.5),(4.3,9),
    (1,8.7),(2,8.5),(3,9),(4.5,8.5),(-0.5,8.8),(-1.5,7.8),(-2,7.2),(-3,6.3),(-3.8,5.5),(-4.7,4.2),
    (-5.5,3.3),(-6,2.5),(-7,1),(-7.5,0.3),(-8,-0.7),(-8.7,-2),(-9.2,-3.2),(-9.7,-4.3),(-10.5,-6),(-11,-6.7),
    (-11.7,-7.5),(-12,-8.7),(-12.5,-10),(-13,-11),(-13.5,-12),(-14,-13.2),(-14.2,-14.8),(-14.8,-15.7),(-15.2,-16.5),(-15.5,-18),
    (-15,-19.5),(5,7),(4.7,6),(4.5,5),(4,4.3),(3.2,3.5),(3.5,1.8),(2.7,0.5),(2.5,-0.5),(2.3,-1.8),
    (1.5,-3),(1,-4.5),(0.5,-5),(-0.3,-6.5),(-1,-7.5),(-2,-8.3),(-3,-9.3),(-3.7,-10),(-4,-11),(-5.2,-12.2),
    (-5.8,-13.3),(-6.5,-14.5),(-7.5,-15.6),(-8,-16.6),(-9,-18),(-10,-18.5),
]
magenta_points = (magenta_top_left + magenta_top_right + magenta_mid_left
                  + magenta_mid_right + magenta_low_left + magenta_low_right)
x_ticks = [-50, 0, 50]
y_ticks = [-50, -40, -30, -20, -10, 0, 10, 20, 30, 40, 50]

BLUE = '#0a6cb4'
CYAN = '#00ffff'
RED = '#ff0000'
MAGENTA = '#ee0ee6'
GREY = '#f0f0f0'


def draw_points(ax, points, color, size=20):
    sns.scatterplot(x=[p[0] for p in points], y=[p[1] for p in points], color=color,
                    s=size, linewidth=0, clip_on=False, ax=ax, zorder=3)


def draw_core(ax, outline, color):
    ax.fill([p[0] for p in outline], [p[1] for p in outline], color=color, linewidth=2, zorder=2)


sns.set_style('white')
plt.rcParams['font.family'] = ['Liberation Sans', 'DejaVu Sans']
plt.rcParams['axes.unicode_minus'] = False

fig = plt.figure(figsize=(8.33, 8.21), dpi=100, facecolor=GREY)
fig.add_artist(Rectangle((0, 0), 3 / 833, 1, transform=fig.transFigure, color='#cfe6ea', lw=0))
ax = fig.add_axes([73 / 833, (821 - 754) / 821, (823.5 - 73) / 833, (754 - 6) / 821])

draw_core(ax, blue_core, BLUE)
draw_points(ax, blue_edge + blue_fringe, BLUE)
draw_core(ax, cyan_core, CYAN)
draw_points(ax, cyan_edge + cyan_fringe, CYAN)
draw_core(ax, red_core, RED)
draw_points(ax, red_edge + red_fringe, RED)
draw_points(ax, magenta_points, MAGENTA, size=17)

ax.set_xlim(-50.4, 50.4)
ax.set_ylim(-50.3, 50.3)
ax.set_xticks(x_ticks)
ax.set_yticks(y_ticks)
ax.tick_params(axis='both', direction='in', length=5.5, width=0.8, color='#555555',
               labelsize=15.5, labelcolor='#262626')
ax.tick_params(axis='y', color='#888888', pad=7)
ax.tick_params(axis='x', pad=11)
ax.set_xlabel('X1', fontsize=17, color='#262626', labelpad=7)
ax.set_ylabel('X2', fontsize=17, color='#262626', labelpad=5)

sns.despine(ax=ax)
ax.spines['left'].set_color('#8c8c8c')
ax.spines['left'].set_linewidth(1.5)
ax.spines['bottom'].set_color('#555555')
ax.spines['bottom'].set_linewidth(1)

fig.savefig('out.png', dpi=100, facecolor=fig.get_facecolor())
